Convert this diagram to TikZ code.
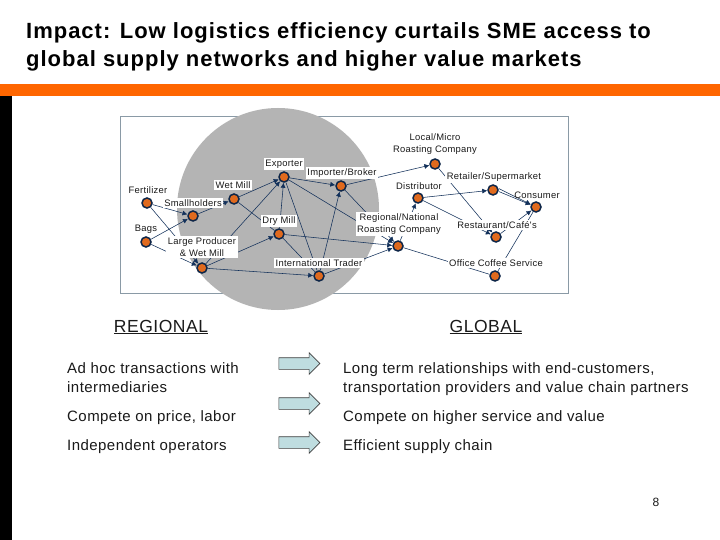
\documentclass[tikz,border=0pt]{standalone}
\usepackage{fontspec}
\setmainfont{Liberation Sans}
\newfontfamily\spaced[LetterSpace=3]{Liberation Sans}
\newfontfamily\spacedt[LetterSpace=4.5]{Liberation Sans}
\usetikzlibrary{shapes.arrows,arrows.meta}
\definecolor{orangebar}{HTML}{FF6600}
\definecolor{dotorange}{HTML}{E06A1E}
\definecolor{navy}{HTML}{12305A}
\definecolor{framegray}{HTML}{8A9AA6}
\definecolor{disc}{HTML}{B4B4B4}
\definecolor{arrowfill}{HTML}{BFDDE0}
\definecolor{txt}{HTML}{1A1A1A}
\tikzset{
 x=1pt,y=-1pt,
 dot/.style={circle,draw=navy!80!black,line width=1.5pt,fill=dotorange,inner sep=0pt,minimum size=10pt},
 flow/.style={navy,line width=.55pt,-{Latex[length=5pt,width=5pt]}},
 plain/.style={navy,line width=.55pt},
 lab/.style={fill=white,inner sep=1.5pt,text=txt,font=\spaced\fontsize{9.4}{11.5}\selectfont,align=center},
 labn/.style={inner sep=1pt,text=txt,font=\spaced\fontsize{9.4}{11.5}\selectfont,align=center},
 body/.style={anchor=base west,text=txt,inner sep=0pt,font=\spaced\fontsize{15}{19}\selectfont},
 head/.style={text=txt,inner sep=0pt,font=\spaced\fontsize{17.5}{20}\selectfont},
 titletxt/.style={anchor=base west,inner sep=0pt,text=black,font=\spacedt\bfseries\fontsize{22}{26}\selectfont},
 fat/.style={single arrow,draw=black!75,line width=.6pt,fill=arrowfill,minimum height=41pt,minimum width=21pt,single arrow head extend=5pt,single arrow tip angle=90,inner sep=0pt},
}
\begin{document}
\begin{tikzpicture}
\useasboundingbox (0,0) rectangle (720,540);
\fill[white] (0,0) rectangle (720,540);
\fill[orangebar] (0,84) rectangle (720,96);
\fill[black] (0,96) rectangle (12,540);
\node[titletxt] (t1) at (26,38.5) {Impact: Low logistics efficiency curtails SME access to};
\node[titletxt] (t2) at (26,67) {global supply networks and higher value markets};
% frame and disc
\draw[framegray,line width=1pt,fill=white] (120.5,117) rectangle (568,293);
\fill[disc] (278,209) circle (101);
% dots
\node[dot] (fert) at (147,203) {};
\node[dot] (bags) at (146,242) {};
\node[dot] (small) at (193,216) {};
\node[dot] (wet) at (234,199) {};
\node[dot] (exp) at (284,177) {};
\node[dot] (imp) at (341,186) {};
\node[dot] (dry) at (279,234) {};
\node[dot] (large) at (202,268) {};
\node[dot] (intl) at (319,276) {};
\node[dot] (reg) at (398,246) {};
\node[dot] (loc) at (435,164) {};
\node[dot] (dist) at (418,198) {};
\node[dot] (ret) at (493,190) {};
\node[dot] (cons) at (536,207) {};
\node[dot] (rest) at (496,237) {};
\node[dot] (off) at (495,276) {};
% connectors
\draw[flow] (fert) -- (small);
\draw[flow] (fert) -- (large);
\draw[flow] (bags) -- (small);
\draw[flow] (bags) -- (large);
\draw[flow] (small) -- (wet);
\draw[flow] (wet) -- (exp);
\draw[plain] (wet) -- (dry);
\draw[flow] (large) -- (exp);
\draw[flow] (large) -- (dry);
\draw[flow] (large) -- (intl);
\draw[flow] (dry) -- (exp);
\draw[plain] (dry) -- (intl);
\draw[flow] (dry) -- (reg);
\draw[flow] (exp) -- (imp);
\draw[plain] (exp) -- (intl);
\draw[flow] (exp) -- (reg);
\draw[flow] (intl) -- (imp);
\draw[flow] (intl) -- (reg);
\draw[flow] (imp) -- (loc);
\draw[flow] (imp) -- (reg);
\draw[flow] (reg) -- (dist);
\draw[plain] (reg) -- (off);
\draw[flow] (dist) -- (ret);
\draw[flow] (dist) -- (rest);
\draw[flow] (loc) -- (rest);
\draw[flow] ([yshift=-1.5pt]ret.east) -- (cons);
\draw[flow] ([yshift=1.5pt]ret.east) -- (cons);
\draw[flow] (rest) -- (cons);
\draw[plain] (off) -- (cons);
% labels
\node[labn] (lfert) at (148,190) {Fertilizer};
\node[labn] (lbags) at (146,229) {Bags};
\node[lab] (lsmall) at (193,203) {Smallholders};
\node[lab] (lwet) at (233,185) {Wet Mill};
\node[lab] (lexp) at (284,164) {Exporter};
\node[lab] (limp) at (342,173) {Importer/Broker};
\node[lab] (ldry) at (279,221) {Dry Mill};
\node[lab] (llarge) at (202,247) {Large Producer\\\& Wet Mill};
\node[lab] (lintl) at (319,263) {International Trader};
\node[lab] (lreg) at (399,224) {Regional/National\\Roasting Company};
\node[lab] (lloc) at (435,144) {Local/Micro\\Roasting Company};
\node[lab] (ldist) at (419,186) {Distributor};
\node[lab] (lret) at (494,177) {Retailer/Supermarket};
\node[labn] (lcons) at (537,195) {Consumer};
\node[lab] (lrest) at (497,225) {Restaurant/Café's};
\node[lab] (loff) at (496,263) {Office Coffee Service};
% lower text
\node[head] (regional) at (161,327) {\underline{REGIONAL}};
\node[head] (global) at (486,327) {\underline{GLOBAL}};
\node[body] (a1) at (67,373) {Ad hoc transactions with};
\node[body] (a2) at (67,392) {intermediaries};
\node[body] (a3) at (67,421) {Compete on price, labor};
\node[body] (a4) at (67,450) {Independent operators};
\node[body] (b1) at (343,373) {Long term relationships with end-customers,};
\node[body] (b2) at (343,392) {transportation providers and value chain partners};
\node[body] (b3) at (343,421) {Compete on higher service and value};
\node[body] (b4) at (343,450) {Efficient supply chain};
\node[fat] (f1) at (296.5,363.5) {\rule{0pt}{11pt}};
\node[fat] (f2) at (296.5,403.5) {\rule{0pt}{11pt}};
\node[fat] (f3) at (296.5,442.5) {\rule{0pt}{11pt}};
\node[text=txt,inner sep=0pt,font=\fontsize{12}{14}\selectfont] (pg) at (656,502) {8};
\end{tikzpicture}
\end{document}
